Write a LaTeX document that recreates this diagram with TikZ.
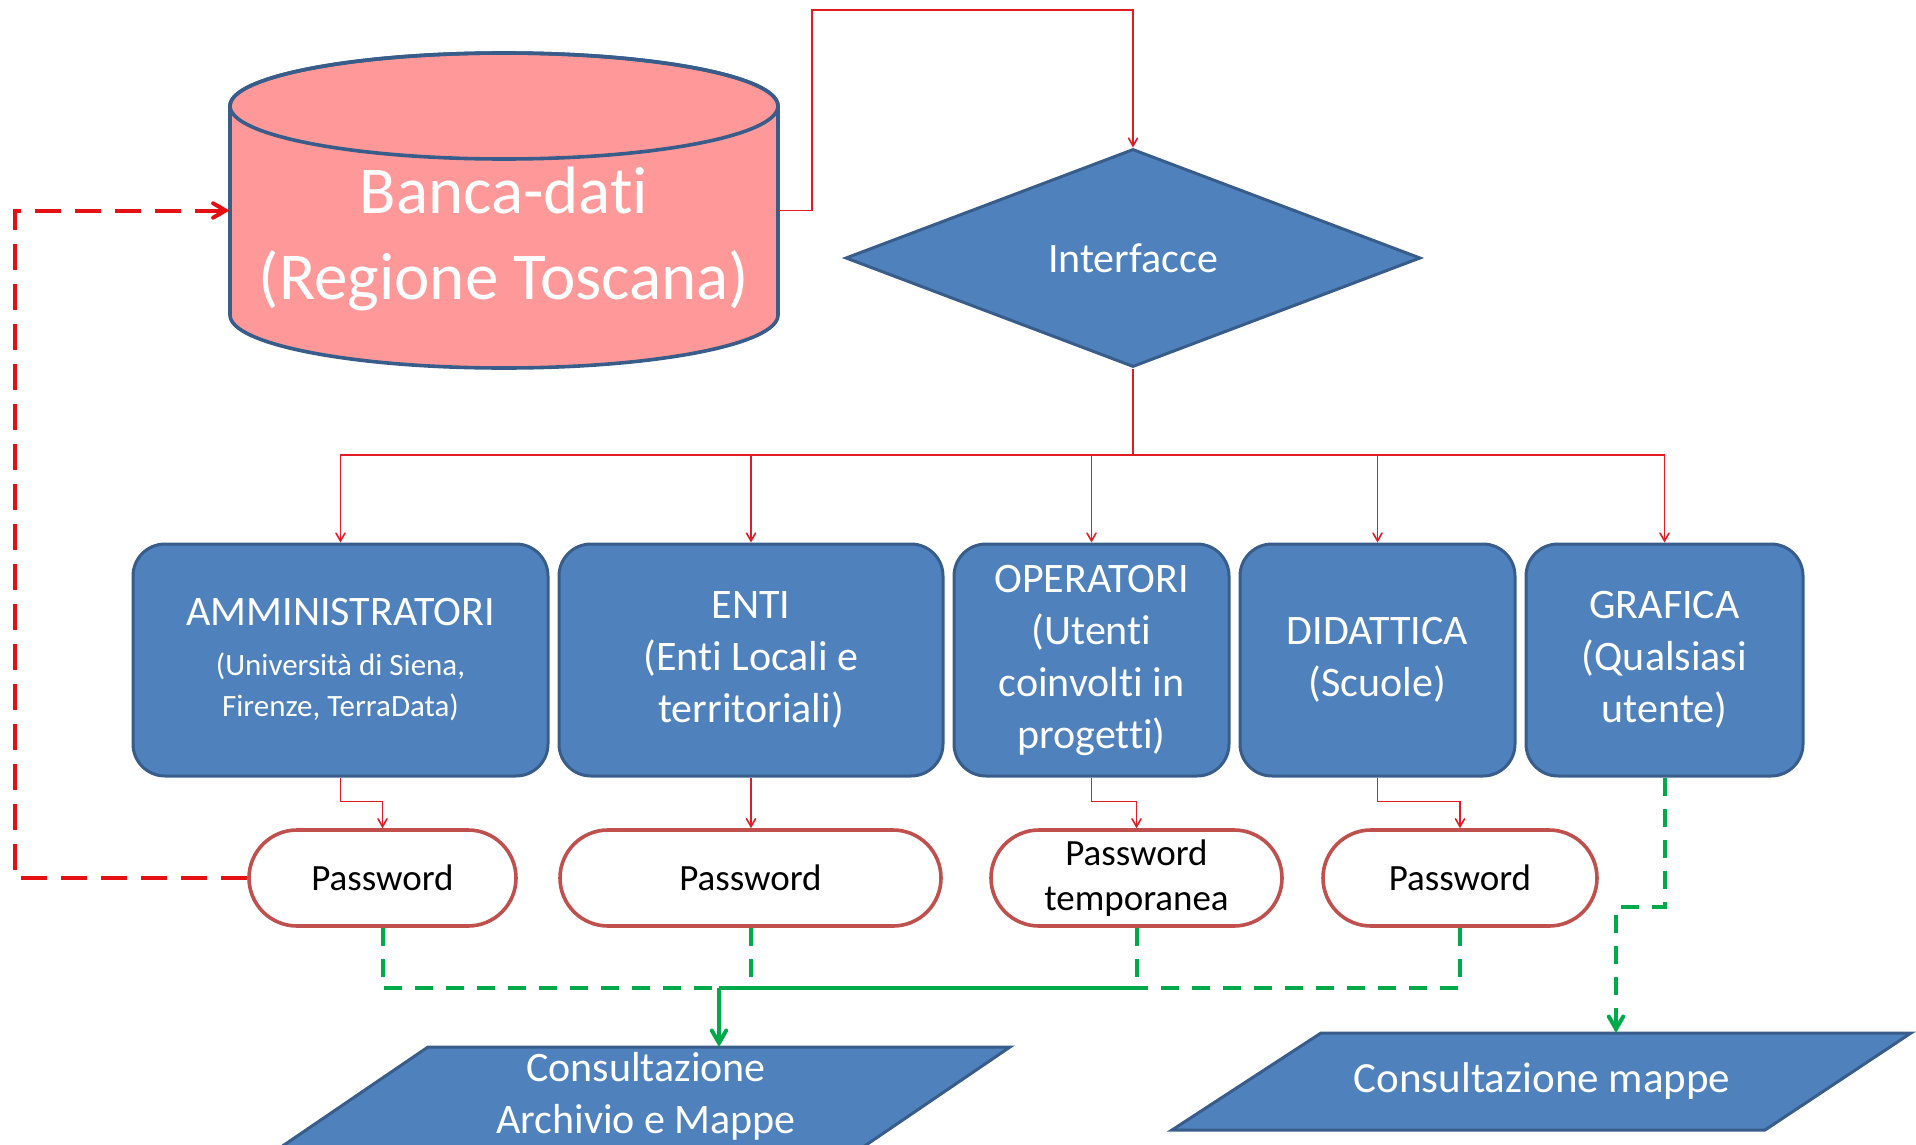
\documentclass[tikz,border=0pt]{standalone}
\usepackage{fontspec}
\setmainfont{Carlito}[Ligatures=CommonOff,RawFeature={-liga;-clig;-calt;-dlig}]
\usetikzlibrary{shapes.geometric}
\usetikzlibrary{positioning}
\usetikzlibrary{arrows}

\definecolor{boxblue}{RGB}{79,129,189}
\definecolor{edgeblue}{RGB}{56,93,138}
\definecolor{dbpink}{RGB}{255,153,153}
\definecolor{pwred}{RGB}{192,80,77}
\definecolor{linkred}{RGB}{226,28,36}
\definecolor{backred}{RGB}{228,16,20}
\definecolor{linkgreen}{RGB}{0,170,75}

\newcommand{\boxfont}{\fontsize{21}{26}\selectfont}
\newcommand{\subfont}{\fontsize{15.5}{18}\selectfont}

\begin{document}
\begin{tikzpicture}[x=0.5pt,y=0.5pt,>=angle 60,
	role/.style={rectangle,rounded corners=16pt,draw=edgeblue,line width=1.5pt,
		fill=boxblue,text=white,minimum height=116pt,inner sep=2pt,align=center,font=\boxfont},
	pw/.style={rectangle,rounded corners=24pt,draw=pwred,line width=1.8pt,fill=white,
		minimum height=48pt,inner sep=2pt,align=center,font=\fontsize{18.5}{22.5}\selectfont},
	wire/.style={draw=linkred,line width=0.8pt},
	gdash/.style={draw=linkgreen,line width=2pt,dash pattern=on 9pt off 6.5pt},
	gline/.style={draw=linkgreen,line width=2pt},
	rdash/.style={draw=backred,line width=2pt,dash pattern=on 13pt off 7pt},
	output/.style={fill=boxblue,draw=edgeblue,line width=1.5pt}]
	
	\useasboundingbox (0,0) rectangle (1916,-1145);
	\clip (0,0) rectangle (1916,-1145);
	
	% banca dati
	\filldraw[fill=dbpink,draw=edgeblue,line width=1.8pt] (230,-106) -- (230,-315)
		arc[start angle=180,end angle=360,x radius=137pt,y radius=26.5pt] -- (778,-106)
		arc[start angle=0,end angle=180,x radius=137pt,y radius=26.5pt] -- cycle;
	\draw[edgeblue,line width=1.8pt] (504,-106) ellipse[x radius=137pt,y radius=26.5pt];
	\node[minimum width=274pt,minimum height=104.5pt] (db) at (504,-210.5) {};
	\node[text=white,align=center,font=\fontsize{33.5}{43}\selectfont] (dbname) at (504,-239)
		{Banca-dati\\(Regione Toscana)};
	
	\node[diamond,aspect=2.6,fill=boxblue,draw=edgeblue,line width=1.5pt,minimum width=287.5pt,
		minimum height=109pt,inner sep=0pt,text=white,font=\boxfont] (iface) at (1133,-258) {Interfacce};
	
	\node[role,minimum width=207.5pt] (amm) at (340.5,-660)
		{AMMINISTRATORI\\[-1pt]\subfont (Università di Siena,\\[-5.5pt]\subfont Firenze, TerraData)};
	\node[role,minimum width=192pt,right=4pt of amm] (enti) {ENTI\\(Enti Locali e\\territoriali)};
	\node[role,minimum width=137.5pt,right=4pt of enti] (oper) {OPERATORI\\(Utenti\\coinvolti in\\progetti)};
	\node[role,minimum width=137.5pt,right=4pt of oper] (did) {DIDATTICA\\(Scuole)};
	\node[role,minimum width=138.5pt,right=4pt of did] (graf) {GRAFICA\\(Qualsiasi\\utente)};
	
	\node[pw,minimum width=133.5pt] (pw1) at (382.5,-878) {Password};
	\node[pw,minimum width=190.5pt] (pw2) at (750.5,-878) {Password};
	\node[pw,minimum width=145.5pt] (pw3) at (1136.5,-878) {Password\\temporanea};
	\node[pw,minimum width=137pt] (pw4) at (1460,-878) {Password};
	
	% uscite
	\filldraw[output] (428,-1047) -- (1010,-1047) -- (844,-1160) -- (262,-1160) -- cycle;
	\node[text=white,align=center,font=\boxfont] (cam1) at (646,-1096) {Consultazione\\Archivio e Mappe};
	\coordinate (cam1top) at (719,-1047);
	\filldraw[output] (1321,-1033) -- (1911,-1033) -- (1765,-1130) -- (1172,-1130) -- cycle;
	\node[text=white,font=\fontsize{21.5}{26}\selectfont] (cam2) at (1542,-1081) {Consultazione mappe};
	\coordinate (cam2top) at (1616,-1033);
	
	% collegamenti
	\draw[wire,->] (db.east) -| (812,-10) -| (iface.north);
	\coordinate (bus) at (1133,-455);
	\draw[wire] (iface.south) -- (bus);
	\foreach \who in {amm,enti,oper,did,graf}
		\draw[wire,->] (bus) -| (\who.north);
	
	\draw[wire,->] (amm.south) -- ++(0,-24) -| (pw1.north);
	\draw[wire,->] (enti.south) -- (enti.south |- pw2.north);
	\draw[wire,->] (oper.south) -- ++(0,-24) -| (pw3.north);
	\draw[wire,->] (did.south) -- ++(0,-24) -| (pw4.north);
	
	\coordinate (join) at (719,-988);
	\draw[gdash] (pw1.south) |- (join);
	\draw[gdash] (pw2.south) -- (pw2.south |- join);
	\draw[gdash] (pw3.south) -- (pw3.south |- join);
	\draw[gdash] (pw4.south) |- (pw3.south |- join);
	\draw[gline] (pw3.south |- join) -- (join);
	\draw[gline,->] (join) -- (cam1top);
	\draw[gdash,->] (graf.south) -- ++(0,-129) -| (cam2top);
	
	\coordinate (back) at (15,-210.5);
	\draw[rdash,->] (pw1.west) -| (back) -- (db.west);
\end{tikzpicture}
\end{document}
